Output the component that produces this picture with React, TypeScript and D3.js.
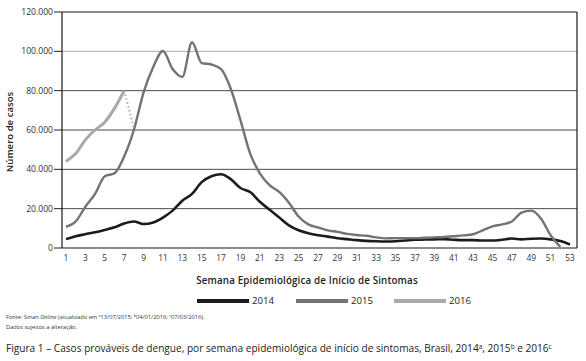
import React from "react";
import * as d3 from "d3";

const weeks2014 = d3.range(1, 54);
const cases2014 = [
  4500, 6000, 7000, 8000, 9200, 10500, 12500, 13500, 12200, 13000,
  15500, 19000, 24000, 27500, 33500, 36500, 37500, 35000, 30500, 28500,
  23500, 19500, 15500, 11500, 9000, 7500, 6500, 5800, 5000, 4500,
  4000, 3600, 3400, 3300, 3400, 3800, 4200, 4300, 4400, 4500,
  4200, 4000, 4000, 3800, 3800, 4200, 4800, 4400, 4700, 4800,
  4400, 3500, 1800,
];
const weeks2015 = d3.range(1, 53);
const cases2015 = [
  10800, 13500, 21000, 27500, 36500, 38000, 46500, 60000, 79000, 92000,
  100200, 91000, 87000, 104600, 94000, 93300, 91000, 81000, 65000, 48000,
  38000, 32000, 28500, 23000, 16000, 12000, 10500, 9000, 8200, 7200,
  6600, 6200, 5400, 4900, 5000, 5000, 5000, 5200, 5400, 5600,
  6000, 6400, 7000, 9000, 11000, 12000, 13500, 18000, 19000, 15000,
  6500, 600,
];
const weeks2016 = [1, 2, 3, 4, 5, 6, 7];
const cases2016 = [44000, 48000, 55000, 60000, 64000, 71000, 80000];
const weeks2016Partial = [7, 8];
const cases2016Partial = [80000, 61000];

const yTicks = [0, 20000, 40000, 60000, 80000, 100000, 120000];
const xTicks = d3.range(1, 54, 2);
const seriesNames = ["2014", "2015", "2016"];
const seriesColors = ["#1c1c1c", "#737373", "#a9a9a9"];

const fmt = (v: number) => (v === 0 ? "0" : d3.format(",")(v).replace(/,/g, "."));

export default function App() {
  const left = 62, right = 577, top = 12, bottom = 248;
  const x = d3.scaleLinear().domain([1, 53]).range([66, 570]);
  const y = d3.scaleLinear().domain([0, 120000]).range([bottom, top]);
  const line = d3
    .line<[number, number]>()
    .x((d) => x(d[0]))
    .y((d) => y(d[1]))
    .curve(d3.curveMonotoneX);
  const zip = (a: number[], b: number[]) => a.map((w, i) => [w, b[i]] as [number, number]);
  const font = "'Open Sans', 'Noto Sans', sans-serif";

  return (
    <svg
      width={586}
      height={361}
      style={{ position: "absolute", left: 0, top: 0, background: "#fff" }}
      fontFamily={font}
    >
      <rect width={586} height={361} fill="#fff" />
      {/* grid */}
      {yTicks.map((t) => (
        <g key={t}>
          {t > 0 && t < 120000 && (
            <line
              x1={left}
              x2={right}
              y1={y(t)}
              y2={y(t)}
              stroke={t === 100000 ? "#a8a8a8" : "#4a4a4a"}
              strokeWidth={1}
            />
          )}
          <line x1={left - 8} x2={left} y1={y(t)} y2={y(t)} stroke="#222" />
          <text
            x={left - 9}
            y={y(t)}
            dy="0.35em"
            textAnchor="end"
            fontSize={8.6}
            fill="#333"
          >
            {fmt(t)}
          </text>
        </g>
      ))}
      {/* frame */}
      <line x1={left} x2={right} y1={top} y2={top} stroke="#1a1a1a" strokeWidth={1.2} />
      <line x1={right} x2={right} y1={top} y2={bottom} stroke="#1a1a1a" strokeWidth={1.2} />
      <line x1={left} x2={left} y1={top} y2={bottom} stroke="#1a1a1a" strokeWidth={1.2} />
      <line x1={left} x2={right} y1={bottom} y2={bottom} stroke="#1a1a1a" strokeWidth={1.2} />

      {/* x labels */}
      {xTicks.map((w) => (
        <text key={w} x={x(w)} y={bottom + 13} textAnchor="middle" fontSize={8.4} fill="#333">
          {w}
        </text>
      ))}

      {/* series */}
      <path d={line(zip(weeks2014, cases2014)) || ""} fill="none" stroke={seriesColors[0]} strokeWidth={2.6} />
      <path d={line(zip(weeks2015, cases2015)) || ""} fill="none" stroke={seriesColors[1]} strokeWidth={2.4} />
      <path d={line(zip(weeks2016, cases2016)) || ""} fill="none" stroke={seriesColors[2]} strokeWidth={3} />
      <path
        d={line(zip(weeks2016Partial, cases2016Partial)) || ""}
        fill="none"
        stroke={seriesColors[2]}
        strokeWidth={2}
        strokeDasharray="1.5 2.5"
      />

      {/* axis titles */}
      <text
        transform="translate(13,132) rotate(-90)"
        textAnchor="middle"
        fontSize={9.6}
        fontWeight={600}
        fill="#222"
      >
        Número de casos
      </text>
      <text
        x={307}
        y={284}
        textAnchor="middle"
        fontSize={9.8}
        fontWeight={600}
        letterSpacing={0.15}
        fill="#222"
      >
        Semana Epidemiológica de Início de Sintomas
      </text>

      {/* legend */}
      {seriesNames.map((n, i) => {
        const lx = [197, 296, 394][i];
        return (
          <g key={n}>
            <line x1={lx} x2={lx + 52} y1={301} y2={301} stroke={seriesColors[i]} strokeWidth={4} />
            <text x={lx + 55} y={301} dy="0.35em" fontSize={9.6} fill="#222">
              {n}
            </text>
          </g>
        );
      })}

      {/* footnotes */}
      <text x={6} y={319} fontSize={5.7} fill="#333">
        Fonte: Sinan <tspan fontStyle="italic">Online</tspan> (atualizado em ª13/07/2015; ᵇ04/01/2016; ᶜ07/03/2016).
      </text>
      <text x={6} y={329} fontSize={5.7} fill="#333">
        Dados sujeitos a alteração.
      </text>

      {/* caption */}
      <text x={6} y={352} fontSize={10.1} fill="#222">
        Figura 1 – Casos prováveis de dengue, por semana epidemiológica de início de sintomas, Brasil, 2014
        <tspan fontSize={6.5} dy={-3.5}>a</tspan>
        <tspan dy={3.5}>, 2015</tspan>
        <tspan fontSize={6.5} dy={-3.5}>b</tspan>
        <tspan dy={3.5}> e 2016</tspan>
        <tspan fontSize={6.5} dy={-3.5}>c</tspan>
      </text>
    </svg>
  );
}
